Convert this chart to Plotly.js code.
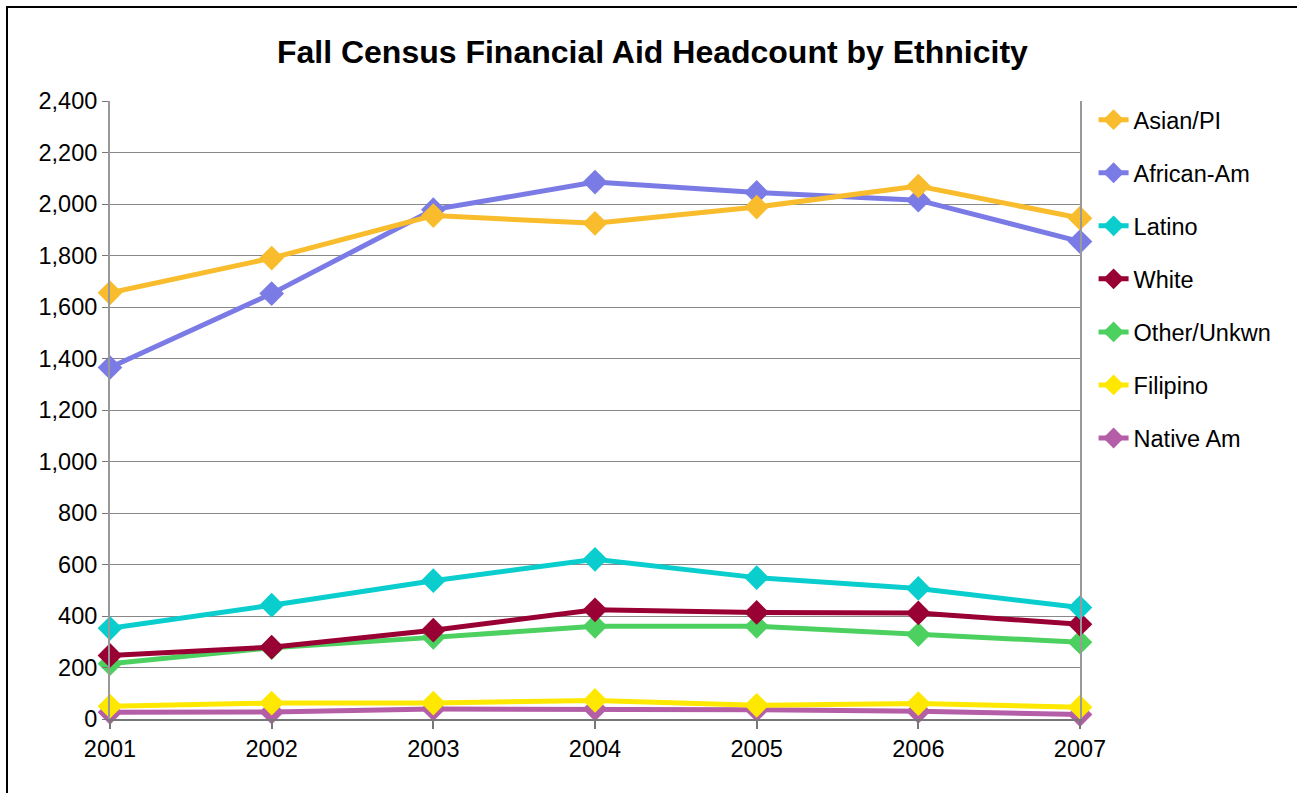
<!DOCTYPE html>
<html>
<head>
<meta charset="utf-8">
<script src="https://cdn.plot.ly/plotly-3.0.1.min.js"></script>
<style>
  html, body { margin: 0; padding: 0; background: #fff; overflow: hidden; }
  #chart { width: 1297px; height: 793px; }
  #frame { position: absolute; left: 6px; top: 6px; width: 1289px; height: 800px; border: 2px solid #000; pointer-events: none; }
</style>
</head>
<body>
<div id="chart"></div>
<div id="frame"></div>
<script>
const years = [2001, 2002, 2003, 2004, 2005, 2006, 2007];
const seriesNames = ["Asian/PI", "African-Am", "Latino", "White", "Other/Unkwn", "Filipino", "Native Am"];
const asianPI   = [1655, 1790, 1955, 1925, 1988, 2070, 1945];
const africanAm = [1365, 1652, 1978, 2085, 2045, 2015, 1854];
const latino    = [352, 442, 537, 620, 549, 507, 433];
const white     = [247, 279, 345, 424, 414, 412, 368];
const other     = [215, 277, 317, 360, 360, 328, 298];
const filipino  = [50, 62, 62, 72, 53, 60, 46];
const nativeAm  = [26, 27, 39, 39, 36, 30, 17];
const colors = ["#F8BC2C", "#7B7BE6", "#0ACECE", "#990033", "#4CD060", "#FFE800", "#B45EA8"];
const values = [asianPI, africanAm, latino, white, other, filipino, nativeAm];

const traces = [];
for (let i = values.length - 1; i >= 0; i--) {
  traces.push({
    type: "scatter",
    mode: "lines+markers",
    name: seriesNames[i],
    legendgroup: "g" + i,
    legendrank: i + 1,
    x: years,
    y: values[i],
    line: { color: colors[i], width: 5 },
    marker: { symbol: "diamond", size: 19, color: colors[i] },
    cliponaxis: false
  });
}

const layout = {
  width: 1297,
  height: 793,
  margin: { l: 110, r: 217, t: 101, b: 74 },
  paper_bgcolor: "#fff",
  plot_bgcolor: "#fff",
  font: { family: "Liberation Sans, Arial, sans-serif", size: 23.5, color: "#000" },
  title: {
    text: "<b>Fall Census Financial Aid Headcount by Ethnicity</b>",
    font: { size: 32, color: "#000" },
    x: 0.503, xanchor: "center", xref: "container",
    y: 0.935, yanchor: "middle"
  },
  xaxis: {
    range: [2001, 2007],
    dtick: 1,
    tickformat: "d",
    showgrid: false,
    zeroline: false,
    showline: true,
    linecolor: "#777",
    linewidth: 1.5,
    ticks: "outside",
    ticklen: 8,
    tickcolor: "#777",
    tickwidth: 2,
    tickfont: { size: 23.5, color: "#000" }
  },
  yaxis: {
    range: [0, 2400],
    dtick: 200,
    tickformat: ",",
    showgrid: true,
    gridcolor: "#888",
    gridwidth: 1,
    zeroline: false,
    showline: true,
    linecolor: "#999",
    linewidth: 2,
    mirror: true,
    ticks: "outside",
    ticklen: 6,
    tickcolor: "#777",
    tickfont: { size: 23.5, color: "#000" }
  },
  showlegend: true,
  legend: {
    x: 1.014, xanchor: "left",
    y: 1.005, yanchor: "top",
    font: { size: 23.5, color: "#000" },
    tracegroupgap: 19.5,
    itemwidth: 30,
    bgcolor: "rgba(0,0,0,0)"
  }
};

Plotly.newPlot("chart", traces, layout, { displayModeBar: false, staticPlot: true });
</script>
</body>
</html>
